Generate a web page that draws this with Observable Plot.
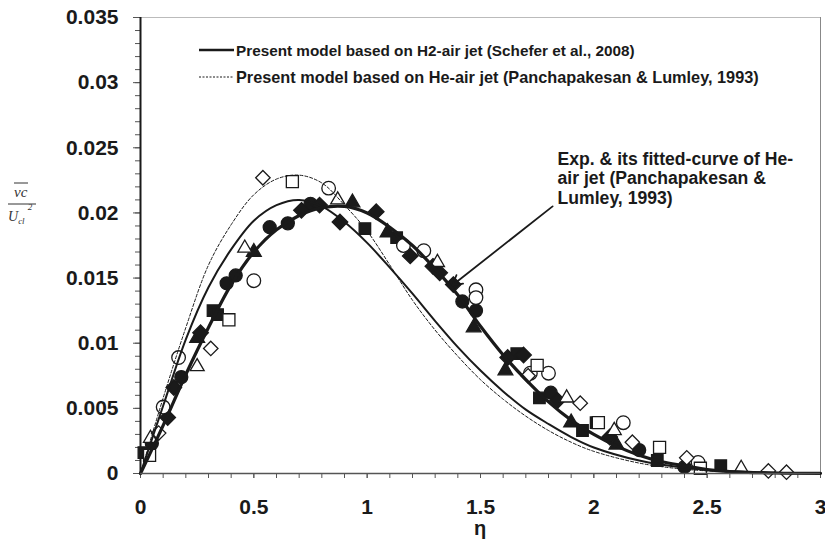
<!DOCTYPE html>
<html><head><meta charset="utf-8">
<script src="https://cdn.jsdelivr.net/npm/d3@7"></script>
<script src="https://cdn.jsdelivr.net/npm/@observablehq/plot@0.6"></script>
<style>
body{margin:0;background:#fff;}
#wrap{position:relative;width:825px;height:551px;}
#over{position:absolute;left:0;top:0;pointer-events:none;}
</style></head><body><div id="wrap"></div>
<script>
// ---- axis ticks ----
const xTicks = [0, 0.5, 1, 1.5, 2, 2.5, 3];
const xTickLabels = ["0", "0.5", "1", "1.5", "2", "2.5", "3"];
const yTicks = [0, 0.005, 0.01, 0.015, 0.02, 0.025, 0.03, 0.035];
const yTickLabels = ["0", "0.005", "0.01", "0.015", "0.02", "0.025", "0.03", "0.035"];

// ---- model curves ----
const etaModel = [0,0.1,0.2,0.3,0.4,0.5,0.6,0.7,0.8,0.9,1.0,1.1,1.2,1.3,1.4,1.5,1.6,1.7,1.8,1.9,2.0,2.2,2.4,2.6,2.8,3.0];
const h2Model  = [0,0.0052,0.0103,0.0143,0.0172,0.0194,0.0206,0.0210,0.0205,0.0193,0.0177,0.0158,0.0138,0.0117,0.0097,0.0079,0.0063,0.0049,0.0038,0.0028,0.0020,0.0010,0.00045,0.00018,0.00006,0.00002];
const heModel  = [0,0.0058,0.0112,0.0160,0.0191,0.0214,0.0226,0.0229,0.0223,0.0206,0.0186,0.0160,0.0133,0.0110,0.0090,0.0072,0.0057,0.0044,0.0033,0.0024,0.0017,0.0008,0.00033,0.00012,0.00004,0.00001];
const etaFit = [0,0.1,0.2,0.3,0.4,0.5,0.6,0.7,0.8,0.9,1.0,1.1,1.2,1.3,1.4,1.5,1.6,1.7,1.8,1.9,2.0,2.1,2.2,2.3,2.4,2.5,2.6,2.8,3.0];
const heFit  = [0,0.0037,0.0076,0.0112,0.0145,0.0170,0.0187,0.0198,0.0204,0.0205,0.0200,0.0189,0.0175,0.0157,0.0137,0.0113,0.0091,0.0072,0.0055,0.0041,0.0030,0.0021,0.0014,0.0009,0.0006,0.0003,0.00015,0.00004,0.00001];

// ---- experimental points ----
const fCircleEta = [0.05,0.18,0.38,0.42,0.57,0.65,0.75,1.42,1.48,1.81,2.2,2.4];
const fCircleV   = [0.0023,0.0074,0.0146,0.0152,0.0189,0.0192,0.0207,0.0132,0.0125,0.0062,0.0018,0.0005];
const fSquareEta = [0.015,0.32,0.34,0.99,1.13,1.66,1.76,1.95,2.01,2.28,2.56];
const fSquareV   = [0.0016,0.0125,0.0122,0.0188,0.0181,0.0092,0.0058,0.0033,0.0039,0.0010,0.0006];
const fTriEta = [0.25,0.5,0.935,1.09,1.47,1.61,1.9,2.1];
const fTriV   = [0.0104,0.0170,0.0208,0.0185,0.0112,0.0079,0.0039,0.0022];
const fDiaEta = [0.12,0.147,0.265,0.71,0.79,0.88,1.04,1.19,1.29,1.32,1.38,1.62,1.69,1.84,2.07];
const fDiaV   = [0.0043,0.0066,0.0108,0.0202,0.0206,0.0193,0.0201,0.0167,0.0159,0.0154,0.0145,0.0089,0.0091,0.0056,0.0028];
const oCircleEta = [0.10,0.168,0.5,0.83,1.16,1.25,1.48,1.48,1.72,1.8,2.13,2.46];
const oCircleV   = [0.0051,0.0089,0.0148,0.0219,0.0175,0.0171,0.0141,0.0135,0.0077,0.0077,0.0039,0.00085];
const oSquareEta = [0.04,0.39,0.67,1.75,2.02,2.29,2.47];
const oSquareV   = [0.0014,0.0118,0.0224,0.0083,0.0039,0.0020,0.0004];
const oTriEta = [0.044,0.25,0.46,0.87,1.31,1.88,2.09,2.65];
const oTriV   = [0.0027,0.0082,0.0173,0.0210,0.0162,0.0058,0.0033,0.0004];
const oDiaEta = [0.08,0.31,0.54,1.71,1.94,2.17,2.41,2.77,2.85];
const oDiaV   = [0.0031,0.0096,0.0227,0.0075,0.0054,0.0024,0.0012,0.0002,0.0001];

// ---- annotation ----
const noteText = ["Exp. & its fitted-curve of He-", "air jet (Panchapakesan &", "Lumley, 1993)"];
const notePos = {eta: 1.84, v: 0.0248};
const arrowFrom = {eta: 1.818, v: 0.0205};
const arrowTo = {eta: 1.376, v: 0.01445};

const pts = (e, v) => e.map((d, i) => ({eta: d, v: v[i]}));
const INK = "#1a1a1a";

const xMinor = d3.range(0, 3.0001, 0.1);
const yMinor = d3.range(0, 0.03501, 0.001);

const dotSeries = [
  [fCircleEta, fCircleV, "circle", INK, 6.5],
  [fSquareEta, fSquareV, "square", INK, 6.5],
  [fTriEta, fTriV, "triangle", INK, 5.5],
  [fDiaEta, fDiaV, "diamond2", INK, 7],
  [oCircleEta, oCircleV, "circle", "white", 6.8],
  [oSquareEta, oSquareV, "square", "white", 6.8],
  [oTriEta, oTriV, "triangle", "white", 5.2],
  [oDiaEta, oDiaV, "diamond2", "white", 6.5]
];

const chart = Plot.plot({
  width: 825, height: 551,
  marginLeft: 140, marginRight: 5, marginTop: 17, marginBottom: 78,
  style: {fontFamily: "Liberation Sans, Arial, sans-serif", color: INK, background: "white"},
  x: {domain: [0, 3]},
  y: {domain: [0, 0.035]},
  marks: [
    Plot.axisY({ticks: yMinor, tickSize: 5, tickFormat: () => "", label: null, stroke: "#555"}),
    Plot.axisX({ticks: xMinor, tickSize: 5, tickFormat: () => "", label: null, stroke: "#555"}),
    Plot.axisY({ticks: yTicks, tickSize: 7, tickPadding: 15, tickFormat: d => yTickLabels[yTicks.indexOf(d)], label: null, fontSize: 21, fontWeight: "bold", stroke: "#555"}),
    Plot.axisX({ticks: xTicks, tickSize: 5, tickPadding: 21, tickFormat: d => xTickLabels[xTicks.indexOf(d)], label: null, fontSize: 21, fontWeight: "bold", stroke: "#555"}),
    Plot.ruleY([0.035], {stroke: "#bbb", strokeWidth: 1}),
    Plot.ruleX([3], {stroke: "#888", strokeWidth: 1}),
    ...dotSeries.map(([e, v, sym, fill, r]) =>
      Plot.dot(pts(e, v), {x: "eta", y: "v", symbol: sym, r, fill, stroke: INK, strokeWidth: 1.3})),
    Plot.line(pts(etaModel, heModel), {x: "eta", y: "v", curve: "catmull-rom", stroke: INK, strokeWidth: 1, strokeDasharray: "3,2"}),
    Plot.line(pts(etaModel, h2Model), {x: "eta", y: "v", curve: "catmull-rom", stroke: INK, strokeWidth: 2}),
    Plot.line(pts(etaFit, heFit), {x: "eta", y: "v", curve: "catmull-rom", stroke: INK, strokeWidth: 3.2}),
    Plot.ruleX([0], {stroke: INK, strokeWidth: 2}),
    Plot.ruleY([0], {stroke: "#555", strokeWidth: 1.5}),
    Plot.arrow([{x1: arrowFrom.eta, y1: arrowFrom.v, x2: arrowTo.eta, y2: arrowTo.v}], {x1: "x1", y1: "y1", x2: "x2", y2: "y2", stroke: INK, strokeWidth: 1.8, headLength: 9, bend: 0}),
    Plot.text([noteText.join("\n")], {x: notePos.eta, y: notePos.v, text: d => d, textAnchor: "start", lineAnchor: "top", lineHeight: 1.13, fontSize: 17.6, fontWeight: "bold", fill: INK})
  ]
});

const wrap = document.getElementById("wrap");
wrap.appendChild(chart);

const ns = "http://www.w3.org/2000/svg";
const over = document.createElementNS(ns, "svg");
over.setAttribute("id", "over");
over.setAttribute("width", 825);
over.setAttribute("height", 551);
over.innerHTML = `
 <g font-family="Liberation Sans, Arial, sans-serif" font-weight="bold" fill="${INK}">
  <line x1="199" x2="234" y1="50" y2="50" stroke="${INK}" stroke-width="2.5"/>
  <text x="236" y="55.5" font-size="15.3">Present model based on H2-air jet (Schefer et al., 2008)</text>
  <line x1="199" x2="234" y1="77" y2="77" stroke="${INK}" stroke-width="1" stroke-dasharray="2,1.5"/>
  <text x="236" y="82.5" font-size="16.3">Present model based on He-air jet (Panchapakesan &amp; Lumley, 1993)</text>
  <text x="480" y="535" font-size="20" text-anchor="middle">η</text>
 </g>
 <g font-family="Liberation Serif, Times New Roman, serif" font-style="italic" fill="#333">
  <line x1="14" x2="28" y1="183" y2="183" stroke="#333" stroke-width="1"/>
  <text x="14" y="197" font-size="15">vc</text>
  <line x1="8" x2="36" y1="204" y2="204" stroke="#333" stroke-width="1"/>
  <text x="8" y="221" font-size="14">U<tspan font-size="9" dy="3">cl</tspan><tspan font-size="9" dy="-14" dx="3">2</tspan></text>
 </g>`;
wrap.appendChild(over);
</script></body></html>
